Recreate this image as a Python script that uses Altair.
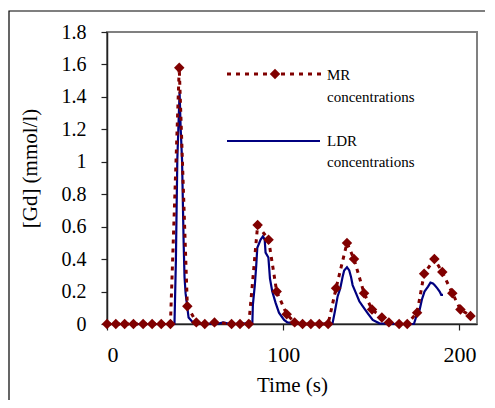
import altair as alt
import pandas as pd

# MR concentrations (diamonds + dotted line)
mr_time = [0, 5, 10, 15, 20.5, 25.6, 30.8, 36, 41, 45.6, 50.7, 55.5, 61,
           70.7, 75.5, 80.5, 85.5, 91.7, 96.3, 102, 106.5, 111, 115.7, 120.5, 125.5,
           130, 136.2, 140.2, 145.9, 150.4, 156, 160, 165.8, 170.4,
           176, 180, 185.8, 190.3, 196, 200.6, 206.3]
mr_conc = [0, 0, 0, 0, 0, 0, 0, 0, 1.58, 0.11, 0.01, 0, 0.01,
           0, 0, 0, 0.61, 0.52, 0.2, 0.06, 0.01, 0, 0, 0, 0,
           0.22, 0.5, 0.4, 0.19, 0.09, 0.04, 0.01, 0, 0,
           0.07, 0.31, 0.4, 0.32, 0.19, 0.09, 0.05]

# LDR concentrations (solid line)
ldr_time = [0, 38.3, 39.1, 39.9, 41.2, 41.8, 42.6, 43.5, 44.0, 44.6, 46.3, 49,
            62, 66, 70,
            82.5, 82.8, 83.9, 84.7, 85.3, 87.2, 88.5, 89.5, 90.0, 91.6, 92.5, 93.8,
            95.7, 97.6, 100.5, 102.4,
            110, 120,
            128, 129.3, 130.9, 132.4, 133.7, 134.6, 136.2, 137.5, 138.5, 139.4, 141.3,
            143.2, 145.1, 148.0, 150.8, 154.6,
            165,
            174.2, 175.5, 177.4, 178.7, 180.2, 182.2, 183.6, 185.0, 185.9, 187.5,
            188.8, 189.7, 190.7]
ldr_conc = [0, 0, 0.39, 1.01, 1.43, 1.21, 1.01, 0.5, 0.29, 0.19, 0.04, 0.006,
            0, 0.01, 0,
            0.006, 0.12, 0.24, 0.36, 0.47, 0.52, 0.54, 0.52, 0.44, 0.41, 0.28, 0.2,
            0.13, 0.07, 0.025, 0.01,
            0, 0,
            0.004, 0.076, 0.17, 0.22, 0.29, 0.33, 0.35, 0.33, 0.29, 0.24, 0.19,
            0.14, 0.11, 0.066, 0.025, 0.004,
            0,
            0, 0.045, 0.086, 0.15, 0.2, 0.23, 0.255, 0.25, 0.24, 0.22,
            0.2, 0.18, 0.18]

x_ticks = [0, 100, 200]
y_ticks = [0, 0.2, 0.4, 0.6, 0.8, 1, 1.2, 1.4, 1.6, 1.8]
mr_label = ["MR", "concentrations"]
ldr_label = ["LDR", "concentrations"]

MR_COLOR = "#800000"
LDR_COLOR = "#000080"
FONT = "Liberation Serif"

mr = pd.DataFrame({"t": mr_time, "v": mr_conc})
ldr = pd.DataFrame({"t": ldr_time, "v": ldr_conc})
one = pd.DataFrame({"a": [0]})

x_enc = alt.X("t:Q",
              scale=alt.Scale(domain=[0, 210], nice=False, zero=False),
              axis=alt.Axis(values=x_ticks, title="Time (s)", grid=False,
                            labelFontSize=22, labelPadding=14, tickSize=6,
                            titleFontSize=21, titleFontWeight="normal",
                            titleY=61, titleBaseline="middle"))
y_enc = alt.Y("v:Q",
              scale=alt.Scale(domain=[0, 1.8], nice=False),
              axis=alt.Axis(values=y_ticks, format="~g", title="[Gd] (mmol/l)",
                            grid=False, labelFontSize=20, labelPadding=15, tickSize=6,
                            titleFontSize=21, titleFontWeight="normal",
                            titleX=-77, titleY=136, titleAngle=270,
                            titleAlign="center", titleBaseline="middle"))

ldr_line = alt.Chart(ldr).mark_line(color=LDR_COLOR, strokeWidth=2.2).encode(
    x=x_enc, y=y_enc, order="t:Q")
mr_line = alt.Chart(mr).mark_line(color=MR_COLOR, strokeWidth=3, strokeDash=[4, 5]).encode(
    x=x_enc, y=y_enc, order="t:Q")
mr_pts = alt.Chart(mr).mark_point(shape="diamond", filled=True, size=110,
                                  color=MR_COLOR, opacity=1).encode(x=x_enc, y=y_enc)

# legend
leg_mr_line = alt.Chart(one).mark_rule(color=MR_COLOR, strokeWidth=3, strokeDash=[4, 5]).encode(
    x=alt.value(120), x2=alt.value(216), y=alt.value(42))
leg_mr_pt = alt.Chart(one).mark_point(shape="diamond", filled=True, size=110,
                                      color=MR_COLOR, opacity=1).encode(
    x=alt.value(168), y=alt.value(42))
leg_ldr_line = alt.Chart(one).mark_rule(color=LDR_COLOR, strokeWidth=2).encode(
    x=alt.value(120), x2=alt.value(213), y=alt.value(109))


def txt(s, yy):
    return alt.Chart(one).mark_text(text=s, align="left", baseline="middle",
                                    font=FONT, fontSize=15, color="black").encode(
        x=alt.value(220), y=alt.value(yy))


legend_texts = [txt(mr_label[0], 43), txt(mr_label[1], 65),
                txt(ldr_label[0], 109), txt(ldr_label[1], 130)]

frame = alt.Chart(one).mark_rect(fillOpacity=0, stroke="black", strokeWidth=1.2).encode(
    x=alt.value(-98), x2=alt.value(430), y=alt.value(-21), y2=alt.value(420))

chart = alt.layer(frame, ldr_line, mr_line, mr_pts, leg_mr_line, leg_mr_pt, leg_ldr_line,
                  *legend_texts).properties(
    width=370, height=292,
    autosize=alt.AutoSizeParams(type="none"),
    padding={"left": 99, "top": 24, "right": 8, "bottom": 76},
    background="white",
).configure_view(
    stroke="#808080", strokeWidth=2
).configure_axis(
    labelFont=FONT, titleFont=FONT, labelColor="black", titleColor="black",
    domainColor="#222222", tickColor="#222222", domainWidth=1.5, tickWidth=1.2
)

chart.save("out.html", embed_options={"renderer": "svg", "actions": False})
